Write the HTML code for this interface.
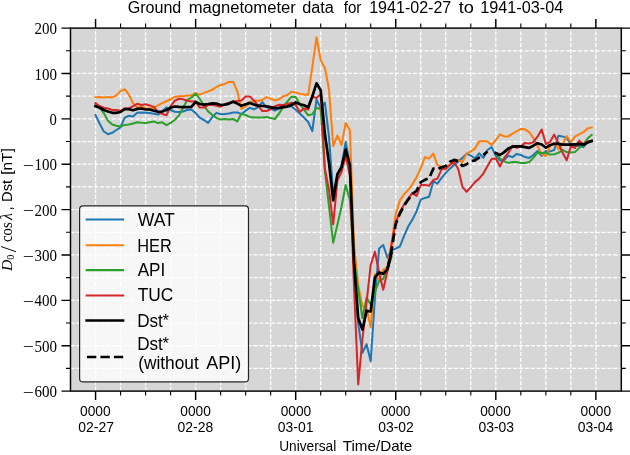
<!DOCTYPE html>
<html lang="en"><head><meta charset="utf-8"><title>Ground magnetometer data</title>
<style>html,body{margin:0;padding:0;background:#fff;overflow:hidden}svg{display:block}text{font-family:"Liberation Sans", "DejaVu Sans", sans-serif;fill:#000}.se{font-family:"Liberation Serif", "DejaVu Serif", serif}.it{font-style:italic}</style></head><body>
<svg width="630" height="455" viewBox="0 0 630 455">
<rect width="630" height="455" fill="#fff"/>
<rect x="70.5" y="28.1" width="550.8" height="363.0" fill="#d6d6d6"/>
<path d="M95.57 391.1V28.1 M120.58 391.1V28.1 M145.60 391.1V28.1 M170.61 391.1V28.1 M195.63 391.1V28.1 M220.64 391.1V28.1 M245.66 391.1V28.1 M270.67 391.1V28.1 M295.69 391.1V28.1 M320.70 391.1V28.1 M345.72 391.1V28.1 M370.73 391.1V28.1 M395.74 391.1V28.1 M420.76 391.1V28.1 M445.77 391.1V28.1 M470.79 391.1V28.1 M495.80 391.1V28.1 M520.82 391.1V28.1 M545.83 391.1V28.1 M570.85 391.1V28.1 M595.86 391.1V28.1" stroke="#fff" stroke-width="1.3" stroke-dasharray="4.07 1.76" fill="none"/>
<path d="M70.5 50.79H621.3 M70.5 73.47H621.3 M70.5 96.16H621.3 M70.5 118.85H621.3 M70.5 141.54H621.3 M70.5 164.22H621.3 M70.5 186.91H621.3 M70.5 209.60H621.3 M70.5 232.29H621.3 M70.5 254.97H621.3 M70.5 277.66H621.3 M70.5 300.35H621.3 M70.5 323.04H621.3 M70.5 345.73H621.3 M70.5 368.41H621.3" stroke="#fff" stroke-width="1.3" stroke-dasharray="4.12 1.78" fill="none"/>
<clipPath id="c"><rect x="70.5" y="28.1" width="550.8" height="363.0"/></clipPath>
<g clip-path="url(#c)" fill="none" stroke-linejoin="round" stroke-linecap="square">
<path d="M95.5 115.1 L99.7 123.8 L103.8 131.5 L108.0 134.2 L112.2 132.8 L116.3 130.0 L120.5 127.4 L124.7 117.7 L128.9 115.7 L133.0 116.5 L137.2 112.8 L141.4 112.6 L145.5 112.8 L149.7 113.1 L153.9 113.8 L158.1 114.6 L162.2 111.5 L166.4 107.4 L170.6 110.0 L174.7 111.8 L178.9 112.0 L183.1 111.5 L187.2 110.0 L191.4 109.5 L195.6 113.1 L199.8 117.7 L203.9 120.0 L208.1 122.9 L212.3 117.1 L216.4 112.9 L220.6 114.3 L224.8 113.9 L228.9 113.6 L233.1 112.6 L237.3 112.4 L241.4 114.3 L245.6 110.7 L249.8 107.9 L254.0 109.3 L258.1 107.1 L262.3 102.1 L266.5 107.1 L270.6 108.6 L274.8 110.7 L279.0 108.6 L283.1 107.9 L287.3 106.5 L291.5 106.5 L295.7 109.8 L299.8 113.6 L304.0 117.6 L308.2 122.0 L312.3 131.2 L316.5 99.6 L320.7 108.1 L324.9 102.7 L329.0 137.0 L333.2 194.0 L337.4 175.0 L341.5 166.0 L345.7 141.9 L349.9 164.0 L354.0 265.0 L358.2 323.6 L362.4 352.7 L366.6 344.2 L370.7 361.2 L374.9 298.0 L379.1 248.6 L383.2 245.0 L387.4 257.7 L391.6 250.4 L395.7 248.6 L399.9 246.5 L404.1 235.8 L408.2 226.5 L412.4 219.6 L416.6 211.2 L420.8 199.6 L424.9 197.9 L429.1 196.7 L433.3 181.4 L437.4 183.6 L441.6 177.9 L445.8 172.9 L449.9 168.6 L454.1 165.0 L458.3 161.4 L462.5 157.9 L466.6 153.6 L470.8 155.7 L475.0 158.3 L479.1 153.3 L483.3 157.9 L487.5 150.0 L491.6 147.1 L495.8 155.7 L500.0 160.7 L504.2 160.0 L508.3 155.7 L512.5 157.1 L516.7 153.9 L520.8 155.0 L525.0 157.1 L529.2 157.9 L533.3 155.0 L537.5 151.0 L541.7 155.7 L545.9 151.0 L550.0 151.4 L554.2 150.0 L558.4 135.7 L562.5 136.4 L566.7 137.9 L570.9 144.3 L575.0 146.0 L579.2 145.7 L583.4 147.1 L587.6 142.1 L591.7 140.7" stroke="#1f77b4" stroke-width="2.05"/>
<path d="M95.5 97.2 L99.7 96.9 L103.8 97.4 L108.0 96.9 L112.2 97.4 L116.3 95.4 L120.5 91.1 L124.7 89.2 L128.9 94.6 L133.0 103.1 L137.2 107.4 L141.4 106.5 L145.5 108.5 L149.7 108.5 L153.9 107.7 L158.1 105.4 L162.2 103.1 L166.4 101.2 L170.6 99.2 L174.7 96.9 L178.9 96.2 L183.1 96.2 L187.2 95.4 L191.4 95.4 L195.6 93.1 L199.8 94.6 L203.9 92.9 L208.1 91.4 L212.3 89.7 L216.4 87.1 L220.6 85.0 L224.8 83.9 L228.9 81.9 L233.1 81.7 L237.3 91.4 L241.4 109.0 L245.6 106.4 L249.8 102.9 L254.0 100.7 L258.1 100.7 L262.3 100.0 L266.5 97.1 L270.6 98.6 L274.8 100.4 L279.0 99.3 L283.1 96.4 L287.3 95.0 L291.5 91.8 L295.7 92.4 L299.8 93.7 L304.0 94.6 L308.2 94.6 L312.3 67.2 L316.5 37.2 L320.7 60.3 L324.9 68.0 L329.0 89.3 L333.2 146.0 L337.4 135.6 L341.5 145.0 L345.7 123.0 L349.9 130.2 L354.0 245.0 L358.2 285.0 L362.4 306.0 L366.6 309.0 L370.7 327.3 L374.9 274.0 L379.1 280.0 L383.2 269.8 L387.4 267.0 L391.6 243.0 L395.7 214.2 L399.9 200.4 L404.1 194.2 L408.2 190.0 L412.4 184.3 L416.6 177.1 L420.8 167.9 L424.9 157.1 L429.1 158.6 L433.3 153.6 L437.4 165.0 L441.6 167.1 L445.8 169.3 L449.9 164.3 L454.1 161.5 L458.3 160.0 L462.5 162.1 L466.6 153.6 L470.8 151.4 L475.0 148.6 L479.1 141.4 L483.3 141.0 L487.5 141.4 L491.6 145.0 L495.8 140.0 L500.0 134.3 L504.2 136.4 L508.3 136.4 L512.5 133.6 L516.7 131.4 L520.8 128.9 L525.0 129.3 L529.2 132.1 L533.3 137.9 L537.5 146.0 L541.7 154.3 L545.9 156.0 L550.0 146.4 L554.2 142.9 L558.4 149.3 L562.5 144.3 L566.7 136.0 L570.9 142.1 L575.0 136.4 L579.2 134.3 L583.4 132.1 L587.6 128.6 L591.7 127.4" stroke="#ff7f0e" stroke-width="2.05"/>
<path d="M95.5 105.4 L99.7 107.7 L103.8 113.1 L108.0 120.8 L112.2 124.6 L116.3 125.7 L120.5 126.6 L124.7 124.9 L128.9 124.6 L133.0 123.5 L137.2 122.3 L141.4 122.8 L145.5 123.1 L149.7 122.3 L153.9 121.5 L158.1 123.1 L162.2 122.3 L166.4 125.1 L170.6 122.8 L174.7 120.0 L178.9 115.4 L183.1 107.7 L187.2 100.0 L191.4 97.7 L195.6 93.5 L199.8 99.0 L203.9 105.6 L208.1 111.4 L212.3 115.0 L216.4 117.9 L220.6 119.6 L224.8 118.9 L228.9 119.6 L233.1 119.0 L237.3 121.4 L241.4 113.6 L245.6 115.0 L249.8 116.9 L254.0 117.4 L258.1 117.4 L262.3 117.4 L266.5 117.1 L270.6 118.1 L274.8 119.0 L279.0 113.6 L283.1 107.1 L287.3 101.6 L291.5 96.7 L295.7 97.0 L299.8 104.0 L304.0 109.6 L308.2 115.3 L312.3 114.2 L316.5 107.8 L320.7 109.2 L324.9 171.0 L329.0 206.5 L333.2 242.7 L337.4 224.8 L341.5 206.8 L345.7 185.0 L349.9 200.0 L354.0 260.0 L358.2 289.0 L362.4 318.0 L366.6 297.7 L370.7 304.6 L374.9 292.0 L379.1 281.0 L383.2 279.0 L387.4 268.0 L391.6 257.0 M495.8 153.5 L500.0 158.6 L504.2 161.4 L508.3 162.9 L512.5 162.1 L516.7 162.1 L520.8 162.9 L525.0 162.9 L529.2 162.1 L533.3 157.9 L537.5 152.5 L541.7 153.1 L545.9 152.5 L550.0 154.6 L554.2 154.3 L558.4 152.9 L562.5 150.0 L566.7 152.1 L570.9 152.4 L575.0 152.1 L579.2 147.9 L583.4 144.3 L587.6 138.6 L591.7 135.0" stroke="#2ca02c" stroke-width="2.05"/>
<path d="M95.5 103.1 L99.7 106.2 L103.8 107.7 L108.0 108.5 L112.2 110.0 L116.3 110.0 L120.5 110.8 L124.7 108.5 L128.9 108.5 L133.0 106.2 L137.2 103.8 L141.4 104.9 L145.5 104.3 L149.7 105.4 L153.9 106.9 L158.1 112.3 L162.2 113.8 L166.4 115.4 L170.6 106.2 L174.7 100.8 L178.9 98.8 L183.1 99.2 L187.2 100.8 L191.4 101.5 L195.6 101.5 L199.8 107.6 L203.9 107.5 L208.1 105.0 L212.3 104.7 L216.4 105.7 L220.6 106.7 L224.8 104.3 L228.9 102.9 L233.1 101.4 L237.3 101.1 L241.4 100.4 L245.6 96.4 L249.8 96.4 L254.0 100.7 L258.1 105.7 L262.3 111.0 L266.5 111.0 L270.6 109.3 L274.8 106.4 L279.0 104.7 L283.1 105.0 L287.3 104.3 L291.5 102.7 L295.7 105.0 L299.8 111.9 L304.0 108.5 L308.2 109.6 L312.3 96.5 L316.5 98.1 L320.7 94.2 L324.9 169.0 L329.0 190.0 L333.2 224.2 L337.4 180.4 L341.5 172.0 L345.7 155.8 L349.9 175.8 L354.0 285.0 L358.2 384.5 L362.4 339.6 L366.6 302.0 L370.7 265.0 L374.9 251.7 L379.1 272.8 L383.2 289.7 L387.4 271.0 L391.6 244.0 L395.7 222.7 L399.9 212.0 L404.1 204.6 L408.2 198.6 L412.4 192.8 L416.6 195.8 L420.8 185.0 L424.9 185.0 L429.1 185.7 L433.3 180.0 L437.4 178.6 L441.6 169.3 L445.8 168.6 L449.9 165.0 L454.1 162.1 L458.3 169.3 L462.5 187.1 L466.6 191.7 L470.8 187.1 L475.0 182.1 L479.1 178.6 L483.3 173.6 L487.5 165.9 L491.6 158.9 L495.8 158.6 L500.0 166.4 L504.2 157.9 L508.3 152.9 L512.5 145.7 L516.7 147.9 L520.8 146.4 L525.0 142.9 L529.2 143.6 L533.3 142.1 L537.5 136.7 L541.7 129.5 L545.9 144.0 L550.0 142.1 L554.2 134.6 L558.4 143.2 L562.5 152.5 L566.7 160.3 L570.9 146.4 L575.0 147.9 L579.2 140.7 L583.4 144.3 L587.6 141.4 L591.7 140.7" stroke="#d62728" stroke-width="2.05"/>
<path d="M95.5 106.2 L99.7 107.7 L103.8 110.0 L108.0 111.5 L112.2 112.8 L116.3 112.8 L120.5 112.0 L124.7 109.2 L128.9 109.2 L133.0 110.3 L137.2 108.9 L141.4 108.5 L145.5 109.5 L149.7 109.5 L153.9 110.8 L158.1 111.8 L162.2 111.5 L166.4 110.0 L170.6 107.7 L174.7 106.5 L178.9 106.9 L183.1 107.2 L187.2 107.2 L191.4 106.9 L195.6 102.0 L199.8 104.0 L203.9 104.6 L208.1 104.0 L212.3 103.3 L216.4 103.6 L220.6 105.0 L224.8 104.6 L228.9 103.6 L233.1 101.7 L237.3 103.6 L241.4 105.7 L245.6 104.3 L249.8 102.9 L254.0 104.6 L258.1 105.7 L262.3 106.0 L266.5 106.4 L270.6 107.1 L274.8 108.1 L279.0 107.9 L283.1 107.1 L287.3 106.6 L291.5 105.0 L295.7 102.4 L299.8 104.2 L304.0 105.3 L308.2 107.3 L312.3 96.5 L316.5 83.3 L320.7 90.2 L324.9 134.0 L329.0 163.0 L333.2 200.4 L337.4 174.2 L341.5 167.3 L345.7 149.6 L349.9 165.0 L354.0 262.0 L358.2 318.0 L362.4 329.6 L366.6 310.8 L370.7 311.5 L374.9 277.3 L379.1 272.5 L383.2 273.8 L387.4 269.5 L391.6 252.9 M495.8 153.1 L500.0 155.0 L504.2 152.1 L508.3 148.6 L512.5 146.7 L516.7 146.4 L520.8 146.4 L525.0 147.1 L529.2 147.9 L533.3 145.7 L537.5 143.2 L541.7 144.5 L545.9 147.7 L550.0 145.2 L554.2 143.8 L558.4 143.8 L562.5 144.6 L566.7 144.7 L570.9 144.7 L575.0 144.3 L579.2 143.9 L583.4 144.7 L587.6 142.6 L591.7 141.1" stroke="#000" stroke-width="2.7"/>
<path d="M387.4 269.5 L391.6 250.0 L395.7 224.2 L399.9 213.5 L404.1 205.8 L408.2 199.6 L412.4 194.0 L416.6 190.7 L420.8 182.2 L424.9 179.8 L429.1 178.2 L433.3 168.7 L437.4 169.3 L441.6 167.2 L445.8 166.0 L449.9 161.7 L454.1 159.9 L458.3 161.2 L462.5 166.0 L466.6 164.3 L470.8 161.1 L475.0 160.4 L479.1 157.6 L483.3 155.1 L487.5 151.4" stroke="#000" stroke-width="2.7" stroke-dasharray="9.25 4" stroke-dashoffset="11.95" stroke-linecap="butt"/>
</g>
<path d="M95.57 391.1v9.0 M95.57 28.1v-9.0 M195.63 391.1v9.0 M195.63 28.1v-9.0 M295.69 391.1v9.0 M295.69 28.1v-9.0 M395.74 391.1v9.0 M395.74 28.1v-9.0 M495.80 391.1v9.0 M495.80 28.1v-9.0 M595.86 391.1v9.0 M595.86 28.1v-9.0 M70.5 28.10h-9.0 M621.3 28.10h9.0 M70.5 73.47h-9.0 M621.3 73.47h9.0 M70.5 118.85h-9.0 M621.3 118.85h9.0 M70.5 164.22h-9.0 M621.3 164.22h9.0 M70.5 209.60h-9.0 M621.3 209.60h9.0 M70.5 254.97h-9.0 M621.3 254.97h9.0 M70.5 300.35h-9.0 M621.3 300.35h9.0 M70.5 345.73h-9.0 M621.3 345.73h9.0 M70.5 391.10h-9.0 M621.3 391.10h9.0" stroke="#000" stroke-width="1.45" fill="none"/>
<path d="M120.58 391.1v4.5 M120.58 28.1v-4.5 M145.60 391.1v4.5 M145.60 28.1v-4.5 M170.61 391.1v4.5 M170.61 28.1v-4.5 M220.64 391.1v4.5 M220.64 28.1v-4.5 M245.66 391.1v4.5 M245.66 28.1v-4.5 M270.67 391.1v4.5 M270.67 28.1v-4.5 M320.70 391.1v4.5 M320.70 28.1v-4.5 M345.72 391.1v4.5 M345.72 28.1v-4.5 M370.73 391.1v4.5 M370.73 28.1v-4.5 M420.76 391.1v4.5 M420.76 28.1v-4.5 M445.77 391.1v4.5 M445.77 28.1v-4.5 M470.79 391.1v4.5 M470.79 28.1v-4.5 M520.82 391.1v4.5 M520.82 28.1v-4.5 M545.83 391.1v4.5 M545.83 28.1v-4.5 M570.85 391.1v4.5 M570.85 28.1v-4.5 M70.5 50.79h-4.5 M621.3 50.79h4.5 M70.5 96.16h-4.5 M621.3 96.16h4.5 M70.5 141.54h-4.5 M621.3 141.54h4.5 M70.5 186.91h-4.5 M621.3 186.91h4.5 M70.5 232.29h-4.5 M621.3 232.29h4.5 M70.5 277.66h-4.5 M621.3 277.66h4.5 M70.5 323.04h-4.5 M621.3 323.04h4.5 M70.5 368.41h-4.5 M621.3 368.41h4.5" stroke="#000" stroke-width="1.1" fill="none"/>
<rect x="70.5" y="28.1" width="550.8" height="363.0" fill="none" stroke="#000" stroke-width="1.45"/>
<text class="se" font-size="16.6" text-anchor="end"><tspan x="56.9" y="34.1" textLength="22.5" lengthAdjust="spacingAndGlyphs">200</tspan></text>
<text class="se" font-size="16.6" text-anchor="end"><tspan x="56.9" y="79.5" textLength="22.5" lengthAdjust="spacingAndGlyphs">100</tspan></text>
<text class="se" font-size="16.6" text-anchor="end"><tspan x="56.9" y="124.8" textLength="7.3" lengthAdjust="spacingAndGlyphs">0</tspan></text>
<text class="se" font-size="16.6" text-anchor="end"><tspan x="33.7" y="170.9" textLength="11" lengthAdjust="spacingAndGlyphs">−</tspan><tspan x="56.9" y="170.2" textLength="22.5" lengthAdjust="spacingAndGlyphs">100</tspan></text>
<text class="se" font-size="16.6" text-anchor="end"><tspan x="33.7" y="216.3" textLength="11" lengthAdjust="spacingAndGlyphs">−</tspan><tspan x="56.9" y="215.6" textLength="22.5" lengthAdjust="spacingAndGlyphs">200</tspan></text>
<text class="se" font-size="16.6" text-anchor="end"><tspan x="33.7" y="261.7" textLength="11" lengthAdjust="spacingAndGlyphs">−</tspan><tspan x="56.9" y="261.0" textLength="22.5" lengthAdjust="spacingAndGlyphs">300</tspan></text>
<text class="se" font-size="16.6" text-anchor="end"><tspan x="33.7" y="307.1" textLength="11" lengthAdjust="spacingAndGlyphs">−</tspan><tspan x="56.9" y="306.4" textLength="22.5" lengthAdjust="spacingAndGlyphs">400</tspan></text>
<text class="se" font-size="16.6" text-anchor="end"><tspan x="33.7" y="352.4" textLength="11" lengthAdjust="spacingAndGlyphs">−</tspan><tspan x="56.9" y="351.7" textLength="22.5" lengthAdjust="spacingAndGlyphs">500</tspan></text>
<text class="se" font-size="16.6" text-anchor="end"><tspan x="33.7" y="397.8" textLength="11" lengthAdjust="spacingAndGlyphs">−</tspan><tspan x="56.9" y="397.1" textLength="22.5" lengthAdjust="spacingAndGlyphs">600</tspan></text>
<g transform="translate(12,270.6) rotate(-90)"><text><tspan class="se it" x="-0.3" y="0" font-size="15.6">D</tspan><tspan class="se" x="10.9" y="2.4" font-size="10.4">0</tspan><tspan class="se" x="18.3" y="3.6" font-size="22.5">/</tspan> <tspan class="se" x="28.6" y="0" font-size="15.8" textLength="19.8" lengthAdjust="spacingAndGlyphs">cos</tspan> <tspan class="se it" x="50.6" y="0" font-size="16">λ</tspan><tspan x="60.2" y="0" font-size="15.3">,</tspan> <tspan x="68.7" y="0" font-size="15.4" textLength="22.1" lengthAdjust="spacingAndGlyphs">Dst</tspan> <tspan x="95.8" y="0" font-size="15.4" textLength="26.7" lengthAdjust="spacingAndGlyphs">[nT]</tspan></text></g>
<rect x="79.6" y="205.8" width="168.9" height="176.1" rx="3.5" ry="3.5" fill="#fff" fill-opacity="0.8" stroke="#262626" stroke-width="1.2"/>
<path d="M86.7 219.5H123.1" stroke="#1f77b4" stroke-width="2.05" stroke-linecap="square"/>
<path d="M86.7 245.3H123.1" stroke="#ff7f0e" stroke-width="2.05" stroke-linecap="square"/>
<path d="M86.7 270.1H123.1" stroke="#2ca02c" stroke-width="2.05" stroke-linecap="square"/>
<path d="M86.7 295.4H123.1" stroke="#d62728" stroke-width="2.05" stroke-linecap="square"/>
<path d="M86.6 320.4H123.1" stroke="#000" stroke-width="2.5" stroke-linecap="square"/>
<path d="M86.9 356.9H123.2" stroke="#000" stroke-width="2.5" stroke-dasharray="9.4 4.1"/>
<text font-size="15.3"><tspan x="80.04" y="415.6" textLength="30.63" lengthAdjust="spacingAndGlyphs">0000</tspan></text>
<text font-size="15.3"><tspan x="78.30" y="431.7" textLength="35.57" lengthAdjust="spacingAndGlyphs">02-27</tspan></text>
<text font-size="15.3"><tspan x="180.32" y="415.6" textLength="30.62" lengthAdjust="spacingAndGlyphs">0000</tspan></text>
<text font-size="15.3"><tspan x="177.58" y="431.7" textLength="35.60" lengthAdjust="spacingAndGlyphs">02-28</tspan></text>
<text font-size="15.3"><tspan x="280.63" y="415.6" textLength="30.62" lengthAdjust="spacingAndGlyphs">0000</tspan></text>
<text font-size="15.3"><tspan x="277.87" y="431.7" textLength="35.60" lengthAdjust="spacingAndGlyphs">03-01</tspan></text>
<text font-size="15.3"><tspan x="380.92" y="415.6" textLength="29.60" lengthAdjust="spacingAndGlyphs">0000</tspan></text>
<text font-size="15.3"><tspan x="378.16" y="431.7" textLength="35.60" lengthAdjust="spacingAndGlyphs">03-02</tspan></text>
<text font-size="15.3"><tspan x="480.22" y="415.6" textLength="30.59" lengthAdjust="spacingAndGlyphs">0000</tspan></text>
<text font-size="15.3"><tspan x="478.46" y="431.7" textLength="35.61" lengthAdjust="spacingAndGlyphs">03-03</tspan></text>
<text font-size="15.3"><tspan x="580.52" y="415.6" textLength="30.59" lengthAdjust="spacingAndGlyphs">0000</tspan></text>
<text font-size="15.3"><tspan x="577.73" y="431.7" textLength="35.64" lengthAdjust="spacingAndGlyphs">03-04</tspan></text>
<text font-size="14.6"><tspan x="279.20" y="450.7" textLength="57.10" lengthAdjust="spacingAndGlyphs">Universal</tspan> <tspan x="342.70" y="450.7" textLength="69.60" lengthAdjust="spacingAndGlyphs">Time/Date</tspan></text>
<text font-size="16.0"><tspan x="127.68" y="12.7" textLength="53.62" lengthAdjust="spacingAndGlyphs">Ground</tspan> <tspan x="188.71" y="12.7" textLength="107.09" lengthAdjust="spacingAndGlyphs">magnetometer</tspan> <tspan x="302.23" y="12.7" textLength="31.59" lengthAdjust="spacingAndGlyphs">data</tspan> <tspan x="343.71" y="12.7" textLength="17.62" lengthAdjust="spacingAndGlyphs">for</tspan> <tspan x="369.19" y="12.7" textLength="82.10" lengthAdjust="spacingAndGlyphs">1941-02-27</tspan> <tspan x="458.67" y="12.7" textLength="15.14" lengthAdjust="spacingAndGlyphs">to</tspan> <tspan x="480.17" y="12.7" textLength="83.13" lengthAdjust="spacingAndGlyphs">1941-03-04</tspan></text>
<text font-size="18"><tspan x="137.70" y="225.8" textLength="37.11" lengthAdjust="spacingAndGlyphs">WAT</tspan></text>
<text font-size="18"><tspan x="137.18" y="251.6" textLength="34.65" lengthAdjust="spacingAndGlyphs">HER</tspan></text>
<text font-size="18"><tspan x="137.70" y="276.3" textLength="27.60" lengthAdjust="spacingAndGlyphs">API</tspan></text>
<text font-size="18"><tspan x="137.70" y="301.3" textLength="35.59" lengthAdjust="spacingAndGlyphs">TUC</tspan></text>
<text font-size="18"><tspan x="138.21" y="369.2" textLength="60.59" lengthAdjust="spacingAndGlyphs">(without</tspan> <tspan x="206.20" y="369.2" textLength="35.10" lengthAdjust="spacingAndGlyphs">API)</tspan></text>
<text font-size="18"><tspan x="137.18" y="326.7" textLength="25.63" lengthAdjust="spacingAndGlyphs">Dst</tspan><tspan x="162.6" y="326.2" font-size="16.5">*</tspan></text>
<text font-size="18"><tspan x="137.18" y="349.6" textLength="25.63" lengthAdjust="spacingAndGlyphs">Dst</tspan><tspan x="162.6" y="349.1" font-size="16.5">*</tspan></text>
</svg></body></html>
